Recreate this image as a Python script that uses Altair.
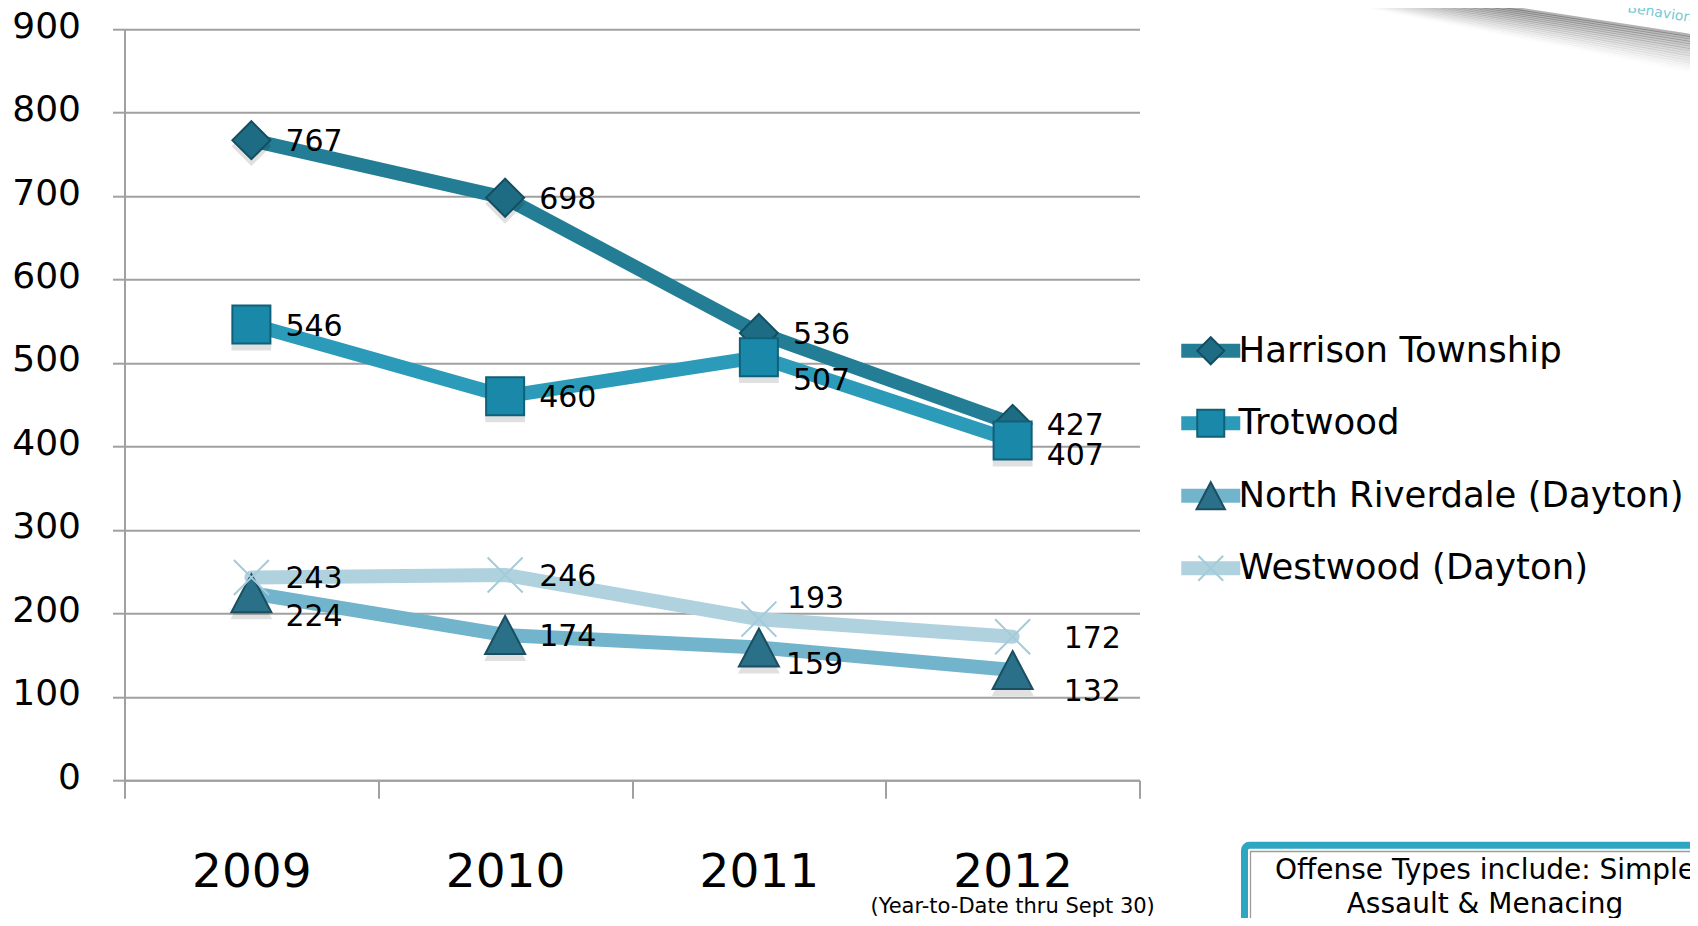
import altair as alt
import pandas as pd

# ---------------- data ----------------
years = ["2009", "2010", "2011", "2012"]
series = ["Harrison Township", "Trotwood", "North Riverdale (Dayton)", "Westwood (Dayton)"]
harrison = [767, 698, 536, 427]
trotwood = [546, 460, 507, 407]
north_riverdale = [224, 174, 159, 132]
westwood = [243, 246, 193, 172]
y_ticks = [0, 100, 200, 300, 400, 500, 600, 700, 800, 900]
x_note = "(Year-to-Date thru Sept 30)"
box_text = "Offense Types include: Simple\nAssault & Menacing"
corner_text = "Behavioral"

# ---------------- styles ----------------
FONT = "DejaVu Sans"
GRID = "#a0a0a0"
line_colors = ["#237d94", "#2b9bb9", "#72b4cc", "#b0d2de"]
marker_fill = ["#1e6c84", "#1a88a8", "#2b7089", "rgba(0,0,0,0)"]
marker_stroke = ["#134f61", "#116079", "#1a4e60", "#a3cbd9"]
marker_paths = [
    "M0,-0.95L0.95,0L0,0.95L-0.95,0Z",
    "M-0.95,-0.95H0.95V0.95H-0.95Z",
    "M0,-0.95L1,0.95L-1,0.95Z",
    "M-0.875,-0.875L0.875,0.875M0.875,-0.875L-0.875,0.875",
]

# label nudges in pixels (layout only)
DEFAULT_NUDGE = (34, 0)
label_nudge = {
    ("Trotwood", "2011"): (34, 22),
    ("Trotwood", "2012"): (34, 13),
    ("North Riverdale (Dayton)", "2009"): (34, 22),
    ("North Riverdale (Dayton)", "2011"): (27, 15),
    ("North Riverdale (Dayton)", "2012"): (51, 20),
    ("Westwood (Dayton)", "2011"): (28, -22),
    ("Westwood (Dayton)", "2012"): (51, 0),
}

rows = []
for s, vals in zip(series, [harrison, trotwood, north_riverdale, westwood]):
    for yr, v in zip(years, vals):
        dx, dy = label_nudge.get((s, yr), DEFAULT_NUDGE)
        rows.append({"series": s, "mkey": s + " ", "year": yr, "value": v,
                     "ldx": dx, "ldy": dy + 2})
df = pd.DataFrame(rows)
mkeys = [s + " " for s in series]

# view origin on the page (plot area top-left)
OX, OY = 124.5, 29.2
W, H = 1015, 751
CANVAS_W, CANVAS_H = 1682, 910


def vx(X):
    return X - OX


def vy(Y):
    return Y - OY


x_scale = alt.Scale(type="band", domain=years, paddingInner=0, paddingOuter=0)
y_scale = alt.Scale(domain=[0, 900], nice=False)

x_axis = alt.Axis(title=None, tickBand="extent", tickSize=18, tickWidth=2,
                  tickColor=GRID, domainColor=GRID, domainWidth=2,
                  labelFontSize=47, labelFont=FONT, labelColor="black",
                  labelPadding=51.5, labelAngle=0, grid=False)
y_axis = alt.Axis(title=None, values=y_ticks, grid=True, gridColor=GRID,
                  gridWidth=2, tickSize=12, tickWidth=2, tickColor=GRID,
                  domainColor=GRID, domainWidth=2, labelFontSize=36,
                  labelFont=FONT, labelColor="black", labelPadding=32,
                  labelOffset=-3)

x_enc = alt.X("year:O", scale=x_scale, axis=x_axis, bandPosition=0.5)
y_enc = alt.Y("value:Q", scale=y_scale, axis=y_axis)

LEG_X = vx(1193)
LEG_Y = vy(333)
LEG_FS = 35.5

base = alt.Chart(df)

lines = base.mark_line(strokeWidth=14, strokeJoin="round", strokeCap="round").encode(
    x=x_enc, y=y_enc,
    color=alt.Color("series:N", scale=alt.Scale(domain=series, range=line_colors),
                    legend=alt.Legend(orient="none", legendX=LEG_X, legendY=LEG_Y,
                                      title=None, symbolType="M-2.95,0H2.95",
                                      symbolSize=400, symbolStrokeWidth=14,
                                      symbolOffset=0,
                                      labelFontSize=LEG_FS, labelFont=FONT,
                                      labelColor="black", labelOffset=10,
                                      labelLimit=0, rowPadding=15.5, padding=0)),
)

leg2 = alt.Legend(orient="none", legendX=LEG_X, legendY=LEG_Y, title=None,
                  symbolSize=808, symbolStrokeWidth=2, symbolOffset=0,
                  labelFontSize=LEG_FS, labelFont=FONT, labelOpacity=0,
                  labelExpr="' '",
                  labelLimit=0, rowPadding=35.5, padding=0)

shadows = base.transform_filter(alt.datum.series != series[3]).mark_point(
    filled=True, color="black", opacity=0.12, size=1750, strokeWidth=0
).encode(
    x=x_enc, y=y_enc, yOffset=alt.value(6),
    shape=alt.Shape("mkey:N", scale=alt.Scale(domain=mkeys, range=marker_paths), legend=None),
)

points = base.mark_point(filled=True, size=1600, strokeWidth=2, opacity=1).encode(
    x=x_enc, y=y_enc,
    shape=alt.Shape("mkey:N", scale=alt.Scale(domain=mkeys, range=marker_paths), legend=leg2),
    fill=alt.Fill("mkey:N", scale=alt.Scale(domain=mkeys, range=marker_fill), legend=leg2),
    stroke=alt.Stroke("mkey:N", scale=alt.Scale(domain=mkeys, range=marker_stroke), legend=leg2),
)

labels = base.mark_text(align="left", baseline="middle", fontSize=30,
                        font=FONT, color="black",
                        dx=alt.expr("datum.ldx"), dy=alt.expr("datum.ldy")).encode(
    x=x_enc, y=y_enc,
    text=alt.Text("value:Q"),
)

note = alt.Chart(pd.DataFrame({"year": ["2012"], "note": [x_note]})).mark_text(
    fontSize=21, font=FONT, color="black", baseline="alphabetic", align="center"
).encode(x=x_enc, y=alt.value(vy(913)), text="note:N")

dummy = pd.DataFrame({"a": [0]})
box = alt.Chart(dummy).mark_rect(fill="white", stroke="#2ea6c2", strokeWidth=7,
                                 cornerRadius=5).encode(
    x=alt.value(vx(1244.5)), x2=alt.value(vx(1760)),
    y=alt.value(vy(845.2)), y2=alt.value(vy(1000)))
box_inner = alt.Chart(dummy).mark_rect(fill="white", stroke="#9c9c9c",
                                       strokeWidth=1.3).encode(
    x=alt.value(vx(1250.5)), x2=alt.value(vx(1760)),
    y=alt.value(vy(851.5)), y2=alt.value(vy(1000)))
box_label = alt.Chart(dummy).mark_text(
    text=box_text, lineBreak="\n", lineHeight=34, fontSize=28, font=FONT,
    color="black", align="center", baseline="alphabetic"
).encode(x=alt.value(vx(1485)), y=alt.value(vy(879)))

# top-right corner: soft shadow of a tilted slide image
shadow_layers = []
n_sh = 16
for k in range(n_sh):
    op = 0.30 * (1 - k / n_sh) ** 1.3
    shadow_layers.append(
        alt.Chart(dummy).mark_rule(color="black", strokeWidth=3, opacity=op).encode(
            x=alt.value(vx(1320)), y=alt.value(vy(-21.6 + 1.3 * k)),
            x2=alt.value(vx(1720)), y2=alt.value(vy(40 + 2.5 * k)))
    )
corner = alt.Chart(dummy).mark_text(
    text=corner_text, fontSize=14, font=FONT, color="#5bbfcc", angle=9,
    align="left", baseline="alphabetic", opacity=0.85
).encode(x=alt.value(vx(1627)), y=alt.value(vy(12)))

chart = alt.layer(
    *shadow_layers, corner, lines, shadows, points, labels, note, box, box_inner, box_label
).resolve_scale(
    color="independent", fill="independent", shape="independent", stroke="independent"
).properties(
    width=W, height=H,
    autosize=alt.AutoSizeParams(type="none"),
    padding={"left": OX - 8, "top": OY - 8, "right": CANVAS_W - (OX - 8) - W,
             "bottom": CANVAS_H - (OY - 8) - H},
).configure_view(stroke=None)

chart.save("out.html", embed_options={"renderer": "svg", "actions": False})
